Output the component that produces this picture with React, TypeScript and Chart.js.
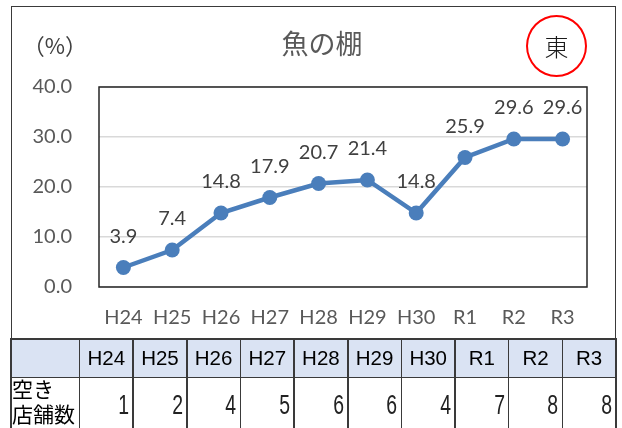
import React, { useEffect, useRef } from "react";
import { Chart, registerables } from "chart.js";

Chart.register(...registerables);

const categories = ["H24", "H25", "H26", "H27", "H28", "H29", "H30", "R1", "R2", "R3"];
const rates = [3.9, 7.4, 14.8, 17.9, 20.7, 21.4, 14.8, 25.9, 29.6, 29.6];
const vacantCounts = [1, 2, 4, 5, 6, 6, 4, 7, 8, 8];
const yTickLabels = ["0.0", "10.0", "20.0", "30.0", "40.0"];
const titleText = "魚の棚";
const unitText = "（%）";
const areaText = "東";
const rowLabelLines = ["空き", "店舗数"];

const LINE_COLOR = "#4a7ebb";
const TICK_FONT = "Lato, 'Noto Sans', sans-serif";

const plotFrame = {
  id: "plotFrame",
  beforeDatasetsDraw(chart: any) {
    const { ctx, chartArea } = chart;
    ctx.save();
    ctx.strokeStyle = "#262626";
    ctx.lineWidth = 1.5;
    ctx.strokeRect(chartArea.left, chartArea.top, chartArea.right - chartArea.left, chartArea.bottom - chartArea.top);
    ctx.restore();
  },
};

const valueLabels = {
  id: "valueLabels",
  afterDatasetsDraw(chart: any) {
    const { ctx } = chart;
    const meta = chart.getDatasetMeta(0);
    const data = chart.data.datasets[0].data as number[];
    ctx.save();
    ctx.fillStyle = "#404040";
    ctx.font = `20px ${TICK_FONT}`;
    ctx.textAlign = "center";
    ctx.textBaseline = "middle";
    meta.data.forEach((pt: any, i: number) => {
      ctx.fillText(data[i].toFixed(1), pt.x, pt.y - 31);
    });
    ctx.restore();
  },
};

export default function App() {
  const ref = useRef<HTMLCanvasElement | null>(null);

  useEffect(() => {
    if (!ref.current) return;
    const chart = new Chart(ref.current, {
      type: "line",
      data: {
        labels: categories,
        datasets: [
          {
            data: rates,
            borderColor: LINE_COLOR,
            backgroundColor: LINE_COLOR,
            borderWidth: 4.5,
            pointRadius: 7.5,
            pointBackgroundColor: LINE_COLOR,
            pointBorderWidth: 0,
            tension: 0,
          },
        ],
      },
      options: {
        responsive: false,
        animation: false,
        layout: { padding: { top: 87, right: 35, left: 0, bottom: 0 } },
        plugins: { legend: { display: false }, tooltip: { enabled: false }, title: { display: false } },
        scales: {
          x: {
            offset: true,
            grid: { display: false, drawTicks: false },
            border: { display: false },
            ticks: {
              color: "#595959",
              font: { family: TICK_FONT, size: 20 },
              padding: 19,
              maxRotation: 0,
              autoSkip: false,
            },
            afterFit: (s: any) => {
              s.height = 52;
            },
          },
          y: {
            min: 0,
            max: 40,
            ticks: {
              stepSize: 10,
              color: "#595959",
              font: { family: TICK_FONT, size: 20 },
              padding: 27,
              callback: (_v: any, i: number) => yTickLabels[i],
            },
            grid: { color: "#d9d9d9", lineWidth: 1.5, drawTicks: false },
            border: { display: false },
            afterFit: (s: any) => {
              s.width = 99;
            },
          },
        },
      },
      plugins: [plotFrame, valueLabels],
    });
    return () => chart.destroy();
  }, []);

  const colEdges: number[] = [11, 79.5];
  const colW = (616 - 79.5) / categories.length;
  categories.forEach((_, i) => colEdges.push(79.5 + colW * (i + 1)));

  const lineColor = "#3a3a3a";

  return (
    <div style={{ position: "absolute", left: 0, top: 0, width: 622, height: 428, overflow: "hidden", background: "#fff" }}>
      <canvas ref={ref} width={622} height={339} style={{ position: "absolute", left: 0, top: 0 }} />
      {/* outer frame */}
      <div
        style={{
          position: "absolute",
          left: 11,
          top: 6,
          width: 605,
          height: 333,
          border: `1.5px solid ${lineColor}`,
          boxSizing: "border-box",
          pointerEvents: "none",
        }}
      />
      {/* title */}
      <div
        style={{
          position: "absolute",
          left: 222,
          width: 200,
          top: 29,
          textAlign: "center",
          fontFamily: "'Noto Sans CJK JP', sans-serif",
          fontSize: 27,
          lineHeight: "27px",
          color: "#595959",
        }}
      >
        {titleText}
      </div>
      {/* unit */}
      <div
        style={{
          position: "absolute",
          left: 15,
          width: 80,
          top: 32,
          textAlign: "center",
          fontFamily: "'Noto Sans CJK JP', sans-serif",
          fontSize: 22,
          lineHeight: "24px",
          color: "#404040",
        }}
      >
        {unitText}
      </div>
      {/* circle */}
      <div
        style={{
          position: "absolute",
          left: 526,
          top: 15,
          width: 61,
          height: 62,
          border: "2px solid #ff0000",
          borderRadius: "50%",
          boxSizing: "border-box",
          display: "flex",
          alignItems: "center",
          justifyContent: "center",
          fontFamily: "'Noto Sans CJK JP', sans-serif",
          fontWeight: 300,
          fontSize: 24,
          color: "#1a1a1a",
        }}
      >
        <span style={{ lineHeight: "24px" }}>{areaText}</span>
      </div>
      {/* table header background */}
      <div style={{ position: "absolute", left: 11, top: 339, width: 605, height: 38, background: "#dae3f3" }} />
      {/* horizontal lines */}
      <div style={{ position: "absolute", left: 11, top: 338, width: 605, height: 1.5, background: lineColor }} />
      <div style={{ position: "absolute", left: 11, top: 376.5, width: 605, height: 1.5, background: lineColor }} />
      {/* vertical lines */}
      {colEdges.map((x, i) => (
        <div
          key={"v" + i}
          style={{ position: "absolute", left: x - 0.75, top: 338, width: 1.5, height: 100, background: lineColor }}
        />
      ))}
      {/* header cells */}
      {categories.map((c, i) => (
        <div
          key={"h" + i}
          style={{
            position: "absolute",
            left: colEdges[i + 1],
            width: colEdges[i + 2] - colEdges[i + 1],
            top: 339,
            height: 38,
            display: "flex",
            alignItems: "center",
            justifyContent: "center",
            fontFamily: "'Liberation Sans', Arial, sans-serif",
            fontSize: 20.5,
            color: "#000",
          }}
        >
          {c}
        </div>
      ))}
      {/* row label */}
      <div
        style={{
          position: "absolute",
          left: 12,
          top: 376,
          fontFamily: "'Noto Sans CJK JP', sans-serif",
          fontSize: 21,
          lineHeight: "25px",
          color: "#000",
        }}
      >
        {rowLabelLines.map((l, i) => (
          <div key={i}>{l}</div>
        ))}
      </div>
      {/* values */}
      {vacantCounts.map((v, i) => (
        <div
          key={"d" + i}
          style={{
            position: "absolute",
            left: colEdges[i + 1],
            width: colEdges[i + 2] - colEdges[i + 1] - 4,
            top: 392,
            textAlign: "right",
            fontFamily: "'Liberation Sans', Arial, sans-serif",
            fontSize: 27,
            lineHeight: "27px",
            color: "#222",
          }}
        >
          <span style={{ display: "inline-block", transform: "scaleX(0.72)", transformOrigin: "right center" }}>{v}</span>
        </div>
      ))}
    </div>
  );
}
